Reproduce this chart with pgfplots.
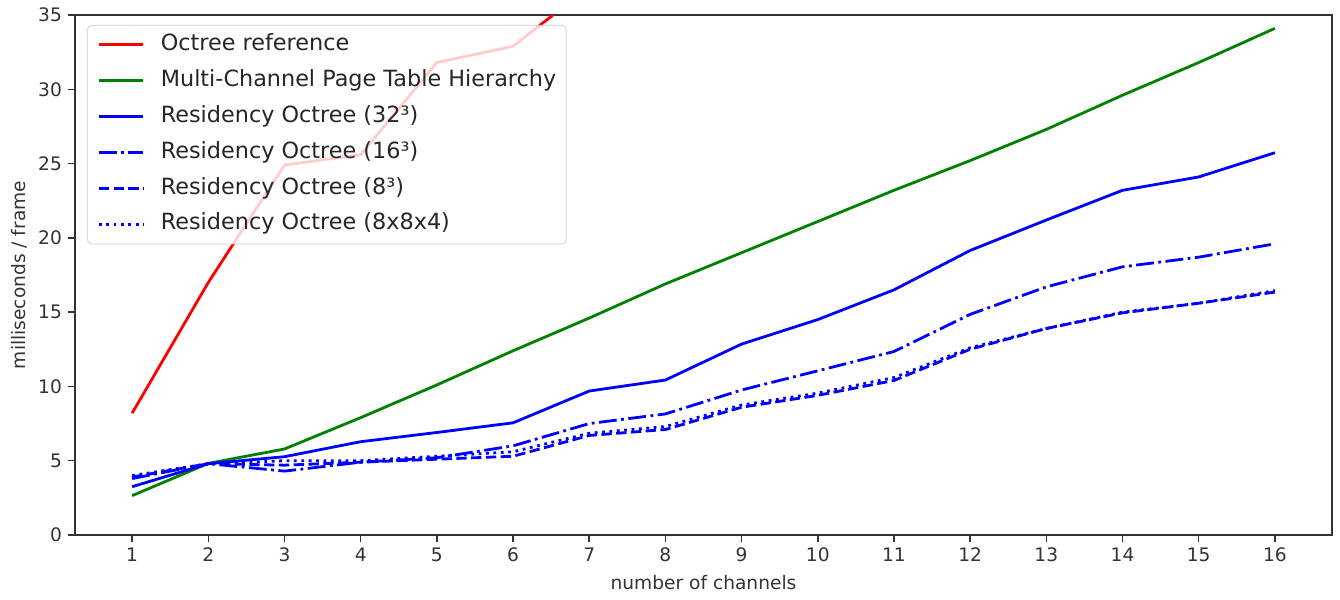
\documentclass[border=0pt]{standalone}
\usepackage{fontspec}
\setmainfont{DejaVu Sans}
\usepackage{pgfplots}
\pgfplotsset{compat=1.18}

\definecolor{mplgreen}{rgb}{0,0.5,0}

\begin{document}
\begin{tikzpicture}
\begin{axis}[
  scale only axis,
  width=675.4pt, height=279.4pt,
  xmin=0.25, xmax=16.75, ymin=0, ymax=35,
  xtick={1,...,16}, ytick={0,5,...,35},
  xtick pos=bottom, ytick pos=left,
  tick align=outside, major tick length=3.5pt,
  every tick/.style={black!80, line width=0.8pt},
  axis line style={black!80, line width=0.8pt},
  /pgf/number format/assume math mode=true,
  tick label style={font=\fontsize{10}{12}\selectfont, text=black!80},
  xlabel={number of channels}, ylabel={milliseconds / frame},
  every axis x label/.style={at={(rel axis cs:0.5,0)}, yshift=-25.8pt, anchor=center,
    font=\fontsize{10}{12}\selectfont, text=black!80},
  every axis y label/.style={at={(rel axis cs:0,0.5)}, xshift=-30pt, rotate=90, anchor=center,
    font=\fontsize{10}{12}\selectfont, text=black!80},
  legend image code/.code={\draw[#1] (0pt,0pt) -- (24pt,0pt);},
  legend style={
    at={(rel axis cs:0.0095,0.981)}, anchor=north west,
    draw=black!20, rounded corners=2.5pt, fill=white, fill opacity=0.8, text opacity=1,
    font=\fontsize{12}{14}\selectfont, text=black!85,
    inner xsep=5.4pt, inner ysep=4pt, row sep=6.3pt,
    nodes={inner sep=0pt, text height=9.5pt, text depth=3.5pt},
    /tikz/every odd column/.append style={column sep=8.6pt},
  },
  legend cell align=left,
]
\addplot[red, line width=1.5pt] coordinates {
  (1,8.2) (2,17.0) (3,24.9) (4,25.6) (5,31.8) (6,32.9) (7,36.9)};
\addlegendentry{Octree reference}

\addplot[mplgreen, line width=1.5pt] coordinates {
  (1,2.65) (2,4.82) (3,5.79) (4,7.9) (5,10.1) (6,12.4) (7,14.6) (8,16.9)
  (9,19.0) (10,21.1) (11,23.2) (12,25.2) (13,27.3) (14,29.6) (15,31.8) (16,34.1)};
\addlegendentry{Multi-Channel Page Table Hierarchy}

\addplot[blue, line width=1.5pt] coordinates {
  (1,3.25) (2,4.8) (3,5.27) (4,6.28) (5,6.9) (6,7.55) (7,9.69) (8,10.43)
  (9,12.85) (10,14.5) (11,16.5) (12,19.15) (13,21.2) (14,23.2) (15,24.1) (16,25.73)};
\addlegendentry{Residency Octree (32³)}

\addplot[blue, line width=1.5pt, dash pattern=on 9.6pt off 2.4pt on 1.5pt off 2.4pt] coordinates {
  (1,3.8) (2,4.8) (3,4.3) (4,4.9) (5,5.2) (6,6.0) (7,7.5) (8,8.15)
  (9,9.76) (10,11.05) (11,12.35) (12,14.85) (13,16.7) (14,18.05) (15,18.7) (16,19.6)};
\addlegendentry{Residency Octree (16³)}

\addplot[blue, line width=1.5pt, dash pattern=on 5.55pt off 2.4pt] coordinates {
  (1,3.9) (2,4.8) (3,4.7) (4,4.9) (5,5.1) (6,5.3) (7,6.7) (8,7.1)
  (9,8.6) (10,9.4) (11,10.4) (12,12.5) (13,13.9) (14,14.95) (15,15.6) (16,16.35)};
\addlegendentry{Residency Octree (8³)}

\addplot[blue, line width=1.5pt, dash pattern=on 1.5pt off 2.475pt] coordinates {
  (1,4.0) (2,4.8) (3,5.0) (4,5.0) (5,5.3) (6,5.6) (7,6.85) (8,7.3)
  (9,8.75) (10,9.55) (11,10.6) (12,12.6) (13,13.9) (14,15.0) (15,15.6) (16,16.45)};
\addlegendentry{Residency Octree (8x8x4)}

\coordinate (sw) at (rel axis cs:0,0);
\coordinate (ne) at (rel axis cs:1,1);
\end{axis}
\pgfresetboundingbox
\path ([shift={(-40.3pt,-34.4pt)}]sw) rectangle ([shift={(4.3pt,8.06pt)}]ne);
\end{tikzpicture}
\end{document}
